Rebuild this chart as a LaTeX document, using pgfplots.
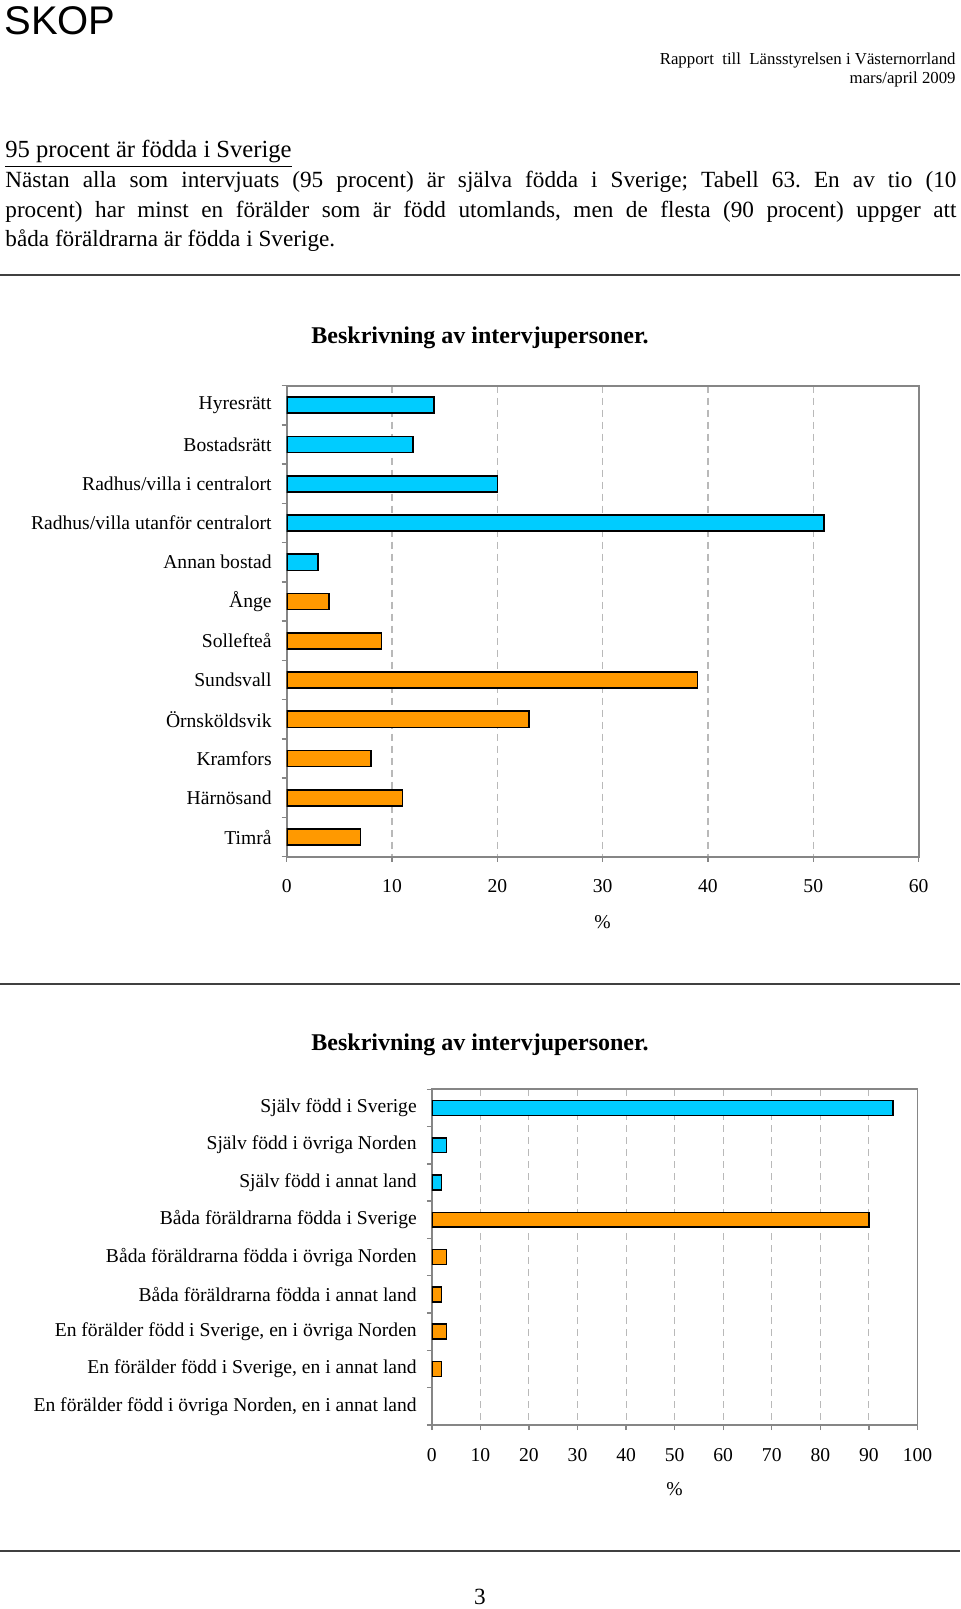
\documentclass[border=0pt]{standalone}
\usepackage{fontspec}
\setmainfont{Liberation Serif}
\newfontfamily\skopfont{Liberation Sans}
\usepackage{pgfplots}
\pgfplotsset{compat=1.18}
\definecolor{barcyan}{RGB}{0,204,255}
\definecolor{barorange}{RGB}{255,153,0}
\definecolor{framegray}{RGB}{134,134,134}
\definecolor{gridgray}{RGB}{185,185,185}
\newcommand{\bodyfont}{\fontsize{11.6pt}{14pt}\selectfont}
\newcommand{\chartfont}{\fontsize{9.8pt}{11pt}\selectfont}
\pgfplotsset{skopbar/.style={
  scale only axis,
  y dir=reverse,
  axis line style={framegray, line width=0.9pt},
  tick style={framegray, line width=0.7pt},
  tick align=outside,
  xtick pos=bottom, ytick pos=left,
  major tick length=2.5pt,
  minor tick length=2.5pt,
  major y tick style={draw=none},
  xmajorgrids=true,
  major x grid style={dash pattern=on 3.5pt off 2.5pt, gridgray, line width=0.55pt},
  /pgf/number format/assume math mode=true,
  xticklabel style={font=\chartfont, anchor=center, yshift=-12.3pt},
  yticklabel style={font=\chartfont, anchor=east, xshift=-1.5pt},
  every axis plot/.append style={xbar, bar shift=0pt, draw=black, line width=0.8pt},
}}
\begin{document}
\frenchspacing
\begin{tikzpicture}
\begin{scope}[x=0.5pt,y=-0.5pt]
\path[use as bounding box] (0,0) rectangle (960,1609);
\node[anchor=base west, inner sep=0, font=\skopfont\fontsize{20pt}{24pt}\selectfont] at (4,34.3) {SKOP};
\node[anchor=base east, inner sep=0, font=\fontsize{8.4pt}{10pt}\selectfont] at (956,64.5) {Rapport\ \ till\ \ Länsstyrelsen i Västernorrland};
\node[anchor=base east, inner sep=0, font=\fontsize{8.4pt}{10pt}\selectfont] at (956,84) {mars/april 2009};
\node[anchor=base west, inner sep=0, font=\fontsize{12.3pt}{14pt}\selectfont] at (5,157.8) {\underline{95 procent är födda i Sverige}};
\node[anchor=base west, inner sep=0, font=\bodyfont] at (5,187.5) {\makebox[475.5pt][s]{Nästan alla som intervjuats (95 procent) är själva födda i Sverige; Tabell 63. En av tio (10}};
\node[anchor=base west, inner sep=0, font=\bodyfont] at (5,217.2) {\makebox[475.5pt][s]{procent) har minst en förälder som är född utomlands, men de flesta (90 procent) uppger att}};
\node[anchor=base west, inner sep=0, font=\bodyfont] at (5,247) {båda föräldrarna är födda i Sverige.};
\draw[line width=1.1pt, black!75] (0,275) -- (960,275);
\node[anchor=base, inner sep=0, font=\fontsize{12pt}{14pt}\selectfont\bfseries] at (480,343.5) {Beskrivning av intervjupersoner.};
\node[anchor=center, inner sep=0, font=\chartfont] at (602.6,921.7) {\%};
\draw[line width=1.1pt, black!75] (0,983.6) -- (960,983.6);
\node[anchor=base, inner sep=0, font=\fontsize{12pt}{14pt}\selectfont\bfseries] at (480,1050) {Beskrivning av intervjupersoner.};
\node[anchor=center, inner sep=0, font=\chartfont] at (674.6,1489) {\%};
\draw[line width=1.1pt, black!75] (0,1550.7) -- (960,1550.7);
\node[anchor=base, inner sep=0, font=\bodyfont] at (480,1604.8) {3};
\end{scope}

\begin{axis}[skopbar,
  at={(143.35pt,-428.35pt)}, anchor=south west,
  width=315.95pt, height=235.55pt,
  xmin=0, xmax=60, xtick={0,10,...,60},
  ymin=-0.5, ymax=11.5,
  ytick={0,...,11},
  yticklabels={Hyresrätt,Bostadsrätt,Radhus/villa i centralort,Radhus/villa utanför centralort,Annan bostad,Ånge,Sollefteå,Sundsvall,Örnsköldsvik,Kramfors,Härnösand,Timrå},
  minor ytick={-0.5,0.5,...,11.5},
]
\addplot[fill=barcyan, bar width=0.41] coordinates {(14,0) (12,1) (20,2) (51,3) (3,4)};
\addplot[fill=barorange, bar width=0.41] coordinates {(4,5) (9,6) (39,7) (23,8) (8,9) (11,10) (7,11)};
\end{axis}

\begin{axis}[skopbar,
  at={(215.9pt,-712.5pt)}, anchor=south west,
  width=242.85pt, height=167.9pt,
  xmin=0, xmax=100, xtick={0,10,...,100},
  ymin=-0.5, ymax=8.5,
  ytick={0,...,8},
  yticklabels={Själv född i Sverige,Själv född i övriga Norden,Själv född i annat land,Båda föräldrarna födda i Sverige,Båda föräldrarna födda i övriga Norden,Båda föräldrarna födda i annat land,{En förälder född i Sverige, en i övriga Norden},{En förälder född i Sverige, en i annat land},{En förälder född i övriga Norden, en i annat land}},
  minor ytick={-0.5,0.5,...,8.5},
]
\addplot[fill=barcyan, bar width=0.40] coordinates {(95,0) (3,1) (2,2)};
\addplot[fill=barorange, bar width=0.40] coordinates {(90,3) (3,4) (2,5) (3,6) (2,7)};
\end{axis}
\end{tikzpicture}
\end{document}
